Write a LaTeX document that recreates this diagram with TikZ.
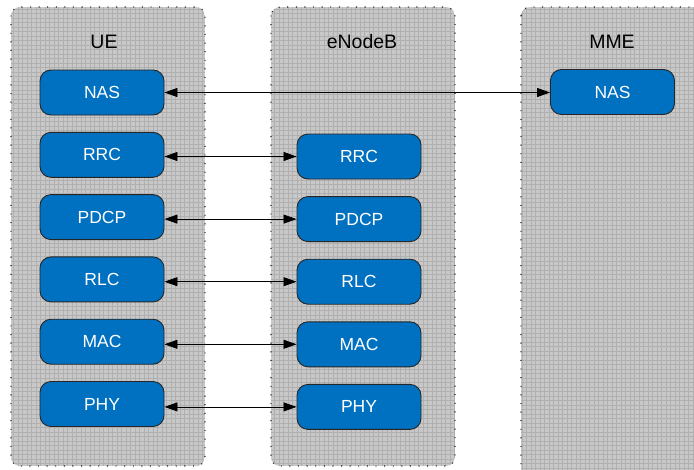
\documentclass[tikz,border=0pt]{standalone}
\usepackage{fontspec}
\setmainfont{Liberation Sans}
\usetikzlibrary{arrows.meta}
\definecolor{boxblue}{RGB}{0,112,192}
\definecolor{colbg}{RGB}{200,200,200}
\definecolor{colgrid}{RGB}{176,176,176}
\begin{document}
\begin{tikzpicture}[x=1pt,y=-1pt,
  layer/.style={draw=black!85, line width=0.9pt, fill=boxblue, rounded corners=11pt,
    minimum width=124pt, minimum height=45pt, text=white,
    font=\fontsize{17.5}{20}\selectfont, inner sep=0pt},
  coltitle/.style={font=\fontsize{19.5}{22}\selectfont, text=black},
  link/.style={line width=0.8pt, {Triangle[length=13pt,width=9pt]}-{Triangle[length=13pt,width=9pt]}},
  colborder/.style={line width=1.4pt, dash pattern=on 0.01pt off 8.6pt, line cap=round, rounded corners=9pt},
  colgridline/.style={colgrid, line width=0.45pt}]
\useasboundingbox (0,0) rectangle (694,469);

% columns
\begin{scope}
  \clip[rounded corners=9pt] (11,7) rectangle (205,466);
  \fill[colbg] (11,7) rectangle (205,466);
  \draw[colgridline, step=4.5pt] (11,7) grid (205,466);
\end{scope}
\draw[colborder] (11,7) rectangle (205,466);

\begin{scope}
  \clip[rounded corners=9pt] (271,7) rectangle (455,466);
  \fill[colbg] (271,7) rectangle (455,466);
  \draw[colgridline, step=4.5pt] (271,7) grid (455,466);
\end{scope}
\draw[colborder] (271,7) rectangle (455,466);

\begin{scope}
  \clip[rounded corners=9pt] (521,7) rectangle (710,485);
  \fill[colbg] (521,7) rectangle (710,485);
  \draw[colgridline, step=4.5pt] (521,7) grid (710,485);
\end{scope}
\draw[colborder] (521,7) rectangle (710,485);

% titles
\node[coltitle] (tue) at (104,42) {UE};
\node[coltitle] (tenb) at (362,42) {eNodeB};
\node[coltitle] (tmme) at (612,42) {MME};

% UE stack
\node[layer] (uenas)  at (102,92.5) {NAS};
\node[layer] (uerrc)  at (102,154.8) {RRC};
\node[layer] (uepdcp) at (102,217.1) {PDCP};
\node[layer] (uerlc)  at (102,279.4) {RLC};
\node[layer] (uemac)  at (102,341.7) {MAC};
\node[layer] (uephy)  at (102,404) {PHY};

% eNodeB stack
\node[layer] (enbrrc)  at (359,156.5) {RRC};
\node[layer] (enbpdcp) at (359,219.1) {PDCP};
\node[layer] (enbrlc)  at (359,281.7) {RLC};
\node[layer] (enbmac)  at (359,344.3) {MAC};
\node[layer] (enbphy)  at (359,406.9) {PHY};

% MME
\node[layer] (mmenas) at (612.5,92) {NAS};

% links
\draw[link] (uenas.east) -- (uenas.east -| mmenas.west);
\draw[link] (uerrc.east |- enbrrc.west) -- (enbrrc.west);
\draw[link] (uepdcp.east |- enbpdcp.west) -- (enbpdcp.west);
\draw[link] (uerlc.east |- enbrlc.west) -- (enbrlc.west);
\draw[link] (uemac.east |- enbmac.west) -- (enbmac.west);
\draw[link] (uephy.east |- enbphy.west) -- (enbphy.west);
\end{tikzpicture}
\end{document}
